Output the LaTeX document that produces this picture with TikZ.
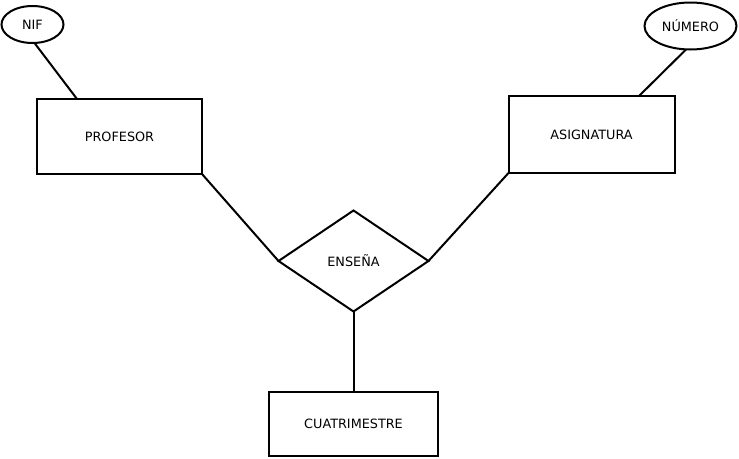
\documentclass[tikz,border=0pt]{standalone}
\usepackage{fontspec}
\setmainfont{DejaVu Sans}
\usetikzlibrary{shapes.geometric}
\begin{document}
\begin{tikzpicture}[x=1pt,y=-1pt,
  every node/.style={font=\fontsize{12.8}{14}\selectfont, inner sep=0pt, outer sep=0pt},
  ent/.style={draw, line width=2pt, rectangle},
  attr/.style={draw, line width=2pt, ellipse},
  rel/.style={draw, line width=2pt, diamond},
  conn/.style={line width=2pt}]
\useasboundingbox (0,0) rectangle (739,458);
\node[attr, minimum width=62pt, minimum height=37pt] (nif) at (32.5,24.5) {NIF};
\node[ent, minimum width=165pt, minimum height=75pt] (prof) at (119.5,136.5) {PROFESOR};
\node[attr, minimum width=92pt, minimum height=47pt] (num) at (690.5,26) {NÚMERO};
\node[ent, minimum width=166pt, minimum height=77pt] (asig) at (591.5,134.5) {ASIGNATURA};
\node[rel, minimum width=150pt, minimum height=101pt] (ens) at (353.5,261) {ENSEÑA};
\node[ent, minimum width=169pt, minimum height=64pt] (cuat) at (353.5,424) {CUATRIMESTRE};
\coordinate (nifA) at ([xshift=2pt]nif.south);
\coordinate (profA) at ([xshift=-42.5pt]prof.north);
\coordinate (numA) at ([xshift=-4.5pt]num.south);
\coordinate (asigA) at ([xshift=47.5pt]asig.north);
\draw[conn] (nifA) -- (profA);
\draw[conn] (numA) -- (asigA);
\draw[conn] (prof.south east) -- (ens.west);
\draw[conn] (asig.south west) -- (ens.east);
\draw[conn] (ens.south) -- (cuat.north);
\end{tikzpicture}
\end{document}
